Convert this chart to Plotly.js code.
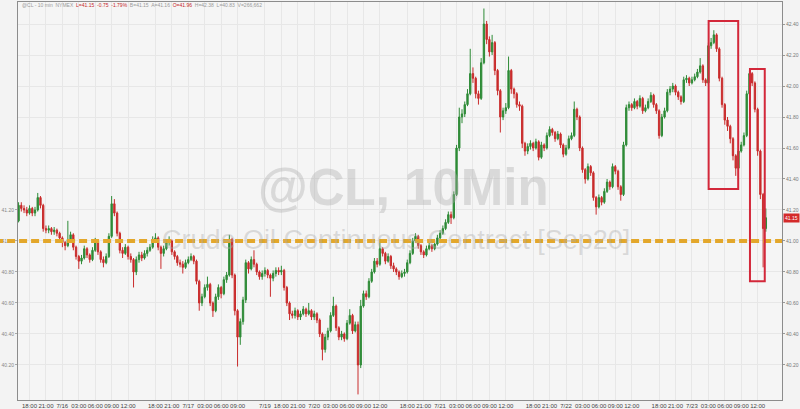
<!DOCTYPE html>
<html>
<head>
<meta charset="utf-8">
<script src="https://cdn.plot.ly/plotly-3.0.1.min.js"></script>
<style>html,body{margin:0;padding:0;background:#f3f3f3;}#chart{width:800px;height:409px;}</style>
</head>
<body>
<div id="chart"></div>
<script>
// 30-minute OHLC bars of @CL (Crude Oil Continuous Contract, Sep20), 7/15 15:00 -> 7/23 12:30
const openP = [
41.13,41.23,41.21,41.20,41.18,41.21,41.18,41.20,41.28,41.23,
41.08,41.07,41.08,41.06,41.07,41.05,41.02,40.99,40.97,41.01,
41.04,40.96,40.90,40.87,40.89,40.95,40.91,40.88,40.94,41.00,
40.93,40.88,40.86,40.90,41.03,41.24,41.18,41.05,40.94,40.92,
40.96,40.90,40.88,40.80,40.88,40.91,40.89,40.92,40.94,40.96,
41.01,41.02,40.96,40.92,40.95,40.99,41.00,40.93,40.90,40.86,
40.85,40.83,40.86,40.88,40.90,40.87,40.74,40.60,40.64,40.70,
40.72,40.60,40.55,40.64,40.70,40.66,40.75,40.78,41.01,40.78,
40.55,40.38,40.48,40.62,40.86,40.82,40.88,40.85,40.80,40.77,
40.79,40.81,40.78,40.76,40.79,40.81,40.80,40.81,40.70,40.60,
40.53,40.52,40.55,40.51,40.53,40.56,40.53,40.55,40.51,40.53,
40.49,40.40,40.30,40.38,40.42,40.52,40.58,40.44,40.38,40.40,
40.37,40.47,40.52,40.42,40.46,40.20,40.58,40.66,40.64,40.74,
40.80,40.87,40.85,40.95,40.92,40.87,40.90,40.84,40.82,40.80,
40.77,40.79,40.80,40.86,40.92,41.00,41.03,40.97,40.93,40.91,
40.95,40.97,40.95,40.98,41.02,41.05,41.08,41.12,41.17,41.15,
41.30,41.60,41.80,41.82,41.88,41.95,42.08,42.05,41.95,41.92,
42.15,42.40,42.30,42.22,42.28,42.10,41.97,41.80,41.84,41.86,
42.10,41.98,41.95,41.88,41.87,41.63,41.58,41.61,41.63,41.60,
41.64,41.54,41.62,41.60,41.68,41.72,41.70,41.66,41.69,41.62,
41.56,41.60,41.66,41.68,41.85,41.80,41.60,41.46,41.40,41.48,
41.44,41.28,41.22,41.28,41.25,41.32,41.38,41.35,41.48,41.45,
41.35,41.30,41.62,41.86,41.88,41.86,41.90,41.87,41.92,41.84,
41.86,41.90,41.94,41.88,41.84,41.68,41.80,41.84,41.96,41.98,
42.00,41.96,41.93,41.90,42.04,42.05,42.02,42.04,42.06,42.09,
42.13,42.04,42.02,42.26,42.28,42.33,42.24,42.05,41.88,41.78,
41.74,41.66,41.55,41.47,41.58,41.62,41.68,41.95,42.08,42.02,
41.85,41.58,41.30,41.08
];
const highP = [
41.25,41.25,41.23,41.22,41.23,41.22,41.22,41.31,41.29,41.24,
41.10,41.10,41.09,41.09,41.08,41.06,41.03,41.00,41.13,41.06,
41.05,40.97,40.91,40.91,40.97,40.96,40.92,40.96,41.02,41.01,
40.94,40.90,40.92,41.05,41.29,41.27,41.19,41.06,40.96,40.98,
40.97,40.92,40.89,40.90,40.93,40.93,40.94,40.96,40.98,41.03,
41.05,41.03,40.97,40.97,41.01,41.03,41.01,40.94,40.91,40.88,
40.87,40.88,40.90,40.92,40.91,40.88,40.75,40.66,40.72,40.77,
40.73,40.61,40.66,40.72,40.71,40.77,40.80,41.04,41.02,40.79,
40.56,40.50,40.64,40.88,40.87,40.90,40.94,40.86,40.81,40.81,
40.83,40.82,40.79,40.81,40.83,40.83,40.84,40.82,40.71,40.61,
40.55,40.57,40.56,40.55,40.58,40.57,40.60,40.56,40.55,40.54,
40.50,40.41,40.40,40.44,40.54,40.64,40.59,40.45,40.42,40.41,
40.49,40.56,40.53,40.48,40.48,40.62,40.68,40.68,40.76,40.82,
40.89,40.89,41.00,40.96,40.93,40.92,40.91,40.86,40.83,40.81,
40.81,40.82,40.88,40.94,41.02,41.05,41.04,40.98,40.94,40.97,
40.99,40.98,41.00,41.04,41.07,41.10,41.14,41.19,41.19,41.32,
41.62,41.86,41.85,41.90,41.98,42.24,42.12,42.06,41.97,42.18,
42.50,42.42,42.32,42.33,42.29,42.11,41.98,41.86,41.89,42.19,
42.11,41.99,41.96,41.90,41.88,41.64,41.63,41.65,41.64,41.66,
41.65,41.64,41.63,41.70,41.74,41.73,41.71,41.71,41.70,41.63,
41.62,41.68,41.70,41.90,41.86,41.81,41.61,41.47,41.50,41.49,
41.45,41.29,41.30,41.29,41.34,41.40,41.39,41.50,41.49,41.46,
41.36,41.64,41.88,41.90,41.89,41.92,41.91,41.94,41.93,41.88,
41.92,41.96,41.95,41.89,41.85,41.82,41.86,41.98,42.00,42.02,
42.01,41.97,41.94,42.06,42.07,42.06,42.06,42.08,42.11,42.18,
42.14,42.05,42.28,42.31,42.36,42.34,42.25,42.06,41.89,41.80,
41.75,41.67,41.56,41.60,41.64,41.70,41.97,42.10,42.09,42.03,
41.86,41.59,41.31,41.21
];
const lowP = [
41.12,41.19,41.18,41.16,41.17,41.16,41.16,41.19,41.21,41.06,
41.05,41.05,41.04,41.04,41.03,41.00,40.96,40.94,40.96,40.99,
40.94,40.88,40.82,40.85,40.88,40.89,40.86,40.87,40.93,40.91,
40.86,40.83,40.85,40.89,41.02,41.16,41.03,40.92,40.89,40.91,
40.88,40.86,40.70,40.78,40.86,40.87,40.88,40.90,40.93,40.95,
40.99,40.94,40.82,40.90,40.94,40.97,40.91,40.88,40.84,40.83,
40.79,40.82,40.85,40.87,40.85,40.72,40.55,40.58,40.63,40.68,
40.58,40.51,40.54,40.62,40.63,40.65,40.73,40.77,40.76,40.52,
40.19,40.33,40.46,40.60,40.79,40.81,40.83,40.78,40.75,40.75,
40.77,40.76,40.64,40.74,40.77,40.78,40.78,40.68,40.58,40.49,
40.50,40.50,40.49,40.49,40.52,40.51,40.52,40.49,40.49,40.47,
40.38,40.23,40.28,40.36,40.41,40.51,40.42,40.36,40.36,40.35,
40.36,40.46,40.40,40.41,40.01,40.18,40.57,40.62,40.63,40.73,
40.79,40.83,40.84,40.90,40.85,40.86,40.82,40.80,40.78,40.75,
40.76,40.77,40.79,40.85,40.91,40.99,40.95,40.91,40.89,40.90,
40.94,40.93,40.94,40.97,41.01,41.04,41.07,41.11,41.11,41.14,
41.29,41.58,41.76,41.80,41.87,41.94,42.02,41.92,41.88,41.91,
42.14,42.27,42.19,42.20,42.07,41.94,41.70,41.78,41.82,41.85,
41.95,41.92,41.86,41.84,41.60,41.55,41.56,41.59,41.58,41.59,
41.52,41.53,41.58,41.59,41.67,41.68,41.64,41.65,41.60,41.54,
41.55,41.59,41.65,41.67,41.78,41.58,41.44,41.37,41.39,41.42,
41.26,41.17,41.21,41.23,41.24,41.31,41.33,41.34,41.43,41.33,
41.26,41.29,41.61,41.84,41.84,41.85,41.85,41.86,41.82,41.83,
41.85,41.89,41.86,41.82,41.66,41.67,41.79,41.83,41.94,41.96,
41.94,41.91,41.88,41.89,42.02,42.00,42.01,42.03,42.05,42.08,
42.02,42.00,42.01,42.24,42.27,42.22,42.03,41.86,41.75,41.71,
41.63,41.52,41.42,41.46,41.57,41.61,41.67,41.94,42.00,41.83,
41.55,41.27,40.83,41.06
];
const closeP = [
41.23,41.21,41.20,41.18,41.21,41.18,41.20,41.28,41.23,41.08,
41.07,41.08,41.06,41.07,41.05,41.02,40.99,40.97,41.01,41.04,
40.96,40.90,40.87,40.89,40.95,40.91,40.88,40.94,41.00,40.93,
40.88,40.86,40.90,41.03,41.24,41.18,41.05,40.94,40.92,40.96,
40.90,40.88,40.80,40.88,40.91,40.89,40.92,40.94,40.96,41.01,
41.02,40.96,40.92,40.95,40.99,41.00,40.93,40.90,40.86,40.85,
40.83,40.86,40.88,40.90,40.87,40.74,40.60,40.64,40.70,40.72,
40.60,40.55,40.64,40.70,40.66,40.75,40.78,41.01,40.78,40.55,
40.38,40.48,40.62,40.86,40.82,40.88,40.85,40.80,40.77,40.79,
40.81,40.78,40.76,40.79,40.81,40.80,40.81,40.70,40.60,40.53,
40.52,40.55,40.51,40.53,40.56,40.53,40.55,40.51,40.53,40.49,
40.40,40.30,40.38,40.42,40.52,40.58,40.44,40.38,40.40,40.37,
40.47,40.52,40.42,40.46,40.20,40.58,40.66,40.64,40.74,40.80,
40.87,40.85,40.95,40.92,40.87,40.90,40.84,40.82,40.80,40.77,
40.79,40.80,40.86,40.92,41.00,41.03,40.97,40.93,40.91,40.95,
40.97,40.95,40.98,41.02,41.05,41.08,41.12,41.17,41.15,41.30,
41.60,41.80,41.82,41.88,41.95,42.08,42.05,41.95,41.92,42.15,
42.40,42.30,42.22,42.28,42.10,41.97,41.80,41.84,41.86,42.10,
41.98,41.95,41.88,41.87,41.63,41.58,41.61,41.63,41.60,41.64,
41.54,41.62,41.60,41.68,41.72,41.70,41.66,41.69,41.62,41.56,
41.60,41.66,41.68,41.85,41.80,41.60,41.46,41.40,41.48,41.44,
41.28,41.22,41.28,41.25,41.32,41.38,41.35,41.48,41.45,41.35,
41.30,41.62,41.86,41.88,41.86,41.90,41.87,41.92,41.84,41.86,
41.90,41.94,41.88,41.84,41.68,41.80,41.84,41.96,41.98,42.00,
41.96,41.93,41.90,42.04,42.05,42.02,42.04,42.06,42.09,42.13,
42.04,42.02,42.26,42.28,42.33,42.24,42.05,41.88,41.78,41.74,
41.66,41.55,41.47,41.58,41.62,41.68,41.95,42.08,42.02,41.85,
41.58,41.30,41.08,41.15
];

// x-axis tick positions (bar time keys) and their labels
const tickKeys = [
'07/15 18:00','07/15 21:00','07/16 00:00','07/16 03:00','07/16 06:00','07/16 09:00','07/16 12:00',
'07/16 18:00','07/16 21:00','07/17 00:00','07/17 03:00','07/17 06:00','07/17 09:00','07/17 14:00',
'07/19 18:00','07/19 21:00','07/20 00:00','07/20 03:00','07/20 06:00','07/20 09:00','07/20 12:00',
'07/20 18:00','07/20 21:00','07/21 00:00','07/21 03:00','07/21 06:00','07/21 09:00','07/21 12:00',
'07/21 18:00','07/21 21:00','07/22 00:00','07/22 03:00','07/22 06:00','07/22 09:00','07/22 12:00',
'07/22 18:00','07/22 21:00','07/23 00:00','07/23 03:00','07/23 06:00','07/23 09:00','07/23 12:00'
];
const tickLabels = [
'18:00','21:00','7/16','03:00','06:00','09:00','12:00',
'18:00','21:00','7/17','03:00','06:00','09:00','7/19',
'18:00','21:00','7/20','03:00','06:00','09:00','12:00',
'18:00','21:00','7/21','03:00','06:00','09:00','12:00',
'18:00','21:00','7/22','03:00','06:00','09:00','12:00',
'18:00','21:00','7/23','03:00','06:00','09:00','12:00'
];
const rightTicks = [40.2,40.4,40.6,40.8,41.0,41.2,41.4,41.6,41.8,42.0,42.2,42.4];
const leftTicks = [40.2,40.4,40.6,40.8,41.0,41.2];
const refLevel = 41.00;

// trading-time keys: 30-min bars, daily break 17:00-18:00, weekend Fri 17:00 -> Sun 18:00
function buildTimes(n){
  const pad = v => (v < 10 ? '0' : '') + v;
  let day = 15, h = 15, m = 0;
  const out = [];
  while(out.length < n){
    out.push('07/' + pad(day) + ' ' + pad(h) + ':' + pad(m));
    m += 30; if(m === 60){ m = 0; h++; }
    if(h === 17){ h = 18; if(day === 17) day = 19; }
    if(h === 24){ h = 0; day++; }
  }
  return out;
}
const times = buildTimes(closeP.length);

const FONT = 'Liberation Sans, Arial, sans-serif';
const yRange = [39.974, 42.542];

const traces = [
  {
    type:'candlestick', x: times, open: openP, high: highP, low: lowP, close: closeP,
    increasing:{line:{color:'#2e8b37', width:1}, fillcolor:'#2e8b37'},
    decreasing:{line:{color:'#c92c2c', width:1}, fillcolor:'#c92c2c'},
    whiskerwidth:0, hoverinfo:'skip'
  },
  {
    type:'scatter', mode:'markers', x:[times[0]], y:[refLevel], yaxis:'y2',
    marker:{opacity:0}, hoverinfo:'skip'
  }
];

const lastClose = closeP[closeP.length-1];

const layout = {
  width:800, height:409,
  margin:{l:18, r:18, t:2, b:9},
  paper_bgcolor:'#f3f3f3', plot_bgcolor:'#f5f5f5',
  showlegend:false, boxgap:0.3,
  font:{family:FONT, size:6, color:'#666'},
  xaxis:{
    type:'category', range:[-0.21, 278.9], rangeslider:{visible:false},
    tickmode:'array', tickvals: tickKeys, ticktext: tickLabels,
    tickfont:{family:FONT, size:6, color:'#444'}, tickangle:0,
    showgrid:true, gridcolor:'#e7e7e7', gridwidth:1,
    showline:true, linecolor:'#8c8c8c', linewidth:1, mirror:true,
    ticks:'', zeroline:false, fixedrange:true
  },
  yaxis:{
    side:'right', range:yRange, tickmode:'array', tickvals: rightTicks, tickformat:'.2f',
    ticks:'outside', ticklen:2, tickcolor:'#999', tickfont:{family:FONT, size:5, color:'#777'},
    showline:true, linecolor:'#8c8c8c', linewidth:1,
    showgrid:true, gridcolor:'#e7e7e7', zeroline:false, fixedrange:true
  },
  yaxis2:{
    overlaying:'y', side:'left', range:yRange, tickmode:'array', tickvals: leftTicks, tickformat:'.2f',
    ticks:'outside', ticklen:2, tickcolor:'#aaa', tickfont:{family:FONT, size:5, color:'#888'},
    showline:true, linecolor:'#8c8c8c', linewidth:1, showgrid:false, zeroline:false, fixedrange:true
  },
  shapes:[
    {type:'line', xref:'paper', x0:-0.03, x1:1.0, yref:'y', y0:refLevel, y1:refLevel,
     line:{color:'#e3a72b', width:4, dash:'8px,4px'}},
    {type:'rect', xref:'x', x0:252.1, x1:262.9, yref:'y', y0:41.335, y1:42.42,
     line:{color:'#d3283a', width:2}, fillcolor:'rgba(0,0,0,0)'},
    {type:'rect', xref:'x', x0:267.2, x1:272.6, yref:'y', y0:40.74, y1:42.11,
     line:{color:'#d3283a', width:2}, fillcolor:'rgba(0,0,0,0)'}
  ],
  annotations:[
    {xref:'paper', yref:'paper', x:0.504, y:0.533, xanchor:'center', yanchor:'middle', showarrow:false,
     text:'<b>@CL, 10Min</b>', font:{family:FONT, size:51, color:'rgba(170,170,170,0.38)'}},
    {xref:'paper', yref:'paper', x:0.495, y:0.402, xanchor:'center', yanchor:'middle', showarrow:false,
     text:'Crude Oil Continuous Contract [Sep20]', font:{family:FONT, size:27, color:'rgba(170,170,170,0.38)'}},
    {xref:'paper', yref:'paper', x:0.003, y:0.992, xanchor:'left', yanchor:'middle', showarrow:false,
     text:'@CL - 10 min  NYMEX  <span style="color:#c62828">L=41.15  -0.75  -1.79%</span>  B=41.15  A=41.16  <span style="color:#c62828">O=41.96</span>  H=42.38  L=40.83  V=266,662',
     font:{family:FONT, size:5, color:'#9a9a9a'}},
    {xref:'paper', yref:'y', x:1, xshift:1, y:lastClose, xanchor:'left', yanchor:'middle', showarrow:false,
     text:lastClose.toFixed(2), bgcolor:'#d42a2a', borderpad:1,
     font:{family:FONT, size:5, color:'#ffffff'}}
  ]
};

Plotly.newPlot('chart', traces, layout, {displayModeBar:false, staticPlot:true});
</script>
</body>
</html>
